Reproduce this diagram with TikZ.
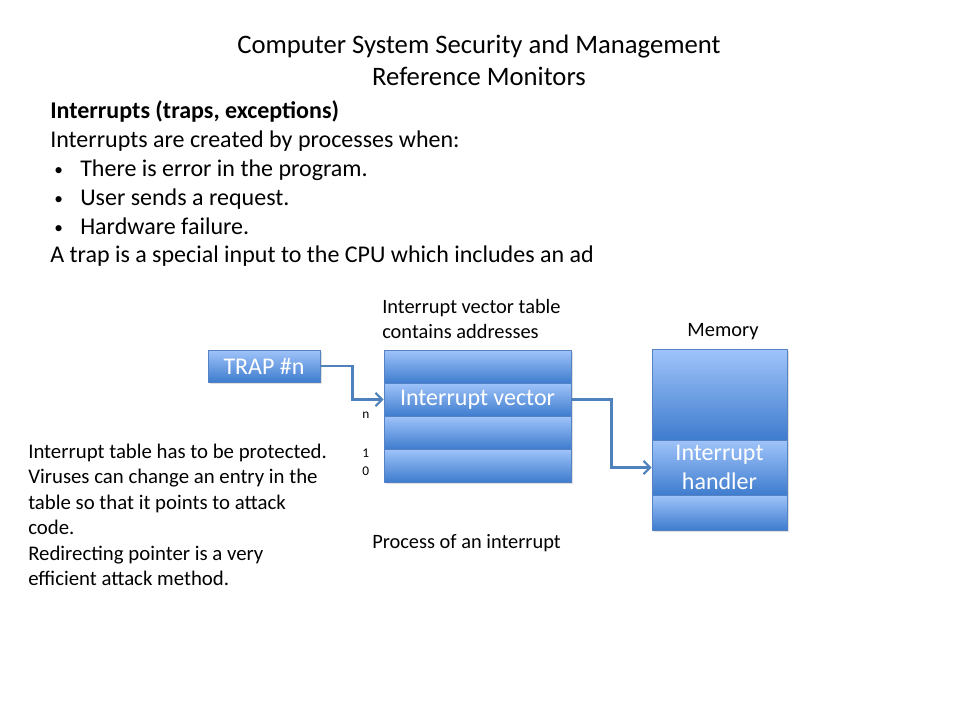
\documentclass[tikz,border=0pt]{standalone}
\usepackage{fontspec}
\setmainfont{Carlito}
\usetikzlibrary{arrows.meta,shadows}
\definecolor{boxtop}{RGB}{160,196,250}
\definecolor{boxbot}{RGB}{62,124,206}
\definecolor{boxline}{RGB}{84,130,196}
\definecolor{arrowc}{RGB}{79,129,189}
\tikzset{
  px/.style={x=0.75pt,y=-0.75pt},
  txt/.style={inner sep=0pt,anchor=base west,text=black},
  title/.style={inner sep=0pt,anchor=base,font=\fontsize{20}{24}\selectfont},
  body/.style={txt,font=\fontsize{18}{22}\selectfont},
  bul/.style={txt,font=\fontsize{13}{15}\selectfont},
  small/.style={txt,font=\fontsize{15.3}{18}\selectfont},
  side/.style={txt,font=\fontsize{15.6}{19}\selectfont},
  tiny/.style={txt,font=\fontsize{10}{12}\selectfont},
  cell/.style={draw=boxline,line width=0.4pt,top color=boxtop,bottom color=boxbot,
    inner sep=0pt,text=white,font=\fontsize{18}{21.75}\selectfont,align=center,
    drop shadow={opacity=0.25,shadow xshift=1.2pt,shadow yshift=-1.2pt}},
  conn/.style={draw=arrowc,line width=2.2pt,-{Straight Barb[length=5pt,width=10pt,line width=1.6pt]}}
}
\begin{document}
\begin{tikzpicture}[px]
\useasboundingbox (0,0) rectangle (960,720);
\fill[white] (0,0) rectangle (960,720);
% title
\node[title] (t1) at (479,54) {Computer System Security and Management};
\node[title] (t2) at (479,86) {Reference Monitors};
% body
\node[body,font=\fontsize{18}{22}\selectfont\bfseries] (h) at (50,119) {Interrupts (traps, exceptions)};
\node[body] (b1) at (50,148) {Interrupts are created by processes when:};
\node[bul] (bu1) at (54,176) {•};
\node[body] (b2) at (80,177) {There is error in the program.};
\node[bul] (bu2) at (54,205) {•};
\node[body] (b3) at (80,206) {User sends a request.};
\node[bul] (bu3) at (54,234) {•};
\node[body] (b4) at (80,235) {Hardware failure.};
\node[body] (b5) at (50,263) {A trap is a special input to the CPU which includes an ad};
% labels
\node[small] (l1) at (382,313) {Interrupt vector table};
\node[small] (l2) at (382,338) {contains addresses};
\node[small,anchor=base] (mem) at (723,336) {Memory};
\node[small] (proc) at (372,548) {Process of an interrupt};
% side text
\node[side] (s1) at (28,458) {Interrupt table has to be protected.};
\node[side] (s2) at (28,483) {Viruses can change an entry in the};
\node[side] (s3) at (28,509) {table so that it points to attack};
\node[side] (s4) at (28,534) {code.};
\node[side] (s5) at (28,560) {Redirecting pointer is a very};
\node[side] (s6) at (28,585) {efficient attack method.};
% boxes
\node[cell,minimum width=84pt,minimum height=24pt] (trap) at (264,366) {TRAP \#n};
\node[cell,minimum width=140.25pt,minimum height=24.75pt] (v0) at (477.5,366.5) {};
\node[cell,minimum width=140.25pt,minimum height=24.75pt] (v1) at (477.5,399.5) {Interrupt vector};
\node[cell,minimum width=140.25pt,minimum height=24.75pt] (v2) at (477.5,432.5) {};
\node[cell,minimum width=140.25pt,minimum height=24.75pt] (v3) at (477.5,465.5) {};
\node[cell,minimum width=101.25pt,minimum height=68.25pt] (m1) at (719.5,394.5) {};
\node[cell,minimum width=101.25pt,minimum height=41.25pt] (m2) at (719.5,467.5) {Interrupt\\handler};
\node[cell,minimum width=101.25pt,minimum height=26.25pt] (m3) at (719.5,512.5) {};
% index labels
\node[tiny] (n) at (362,418) {n};
\node[tiny] (one) at (362,457) {1};
\node[tiny] (zero) at (362,475) {0};
% connectors
\draw[conn] (trap.east) -- ++(32,0) |- (v1.west);
\draw[conn] (v1.east) -- ++(40,0) |- (m2.west);
\end{tikzpicture}
\end{document}
